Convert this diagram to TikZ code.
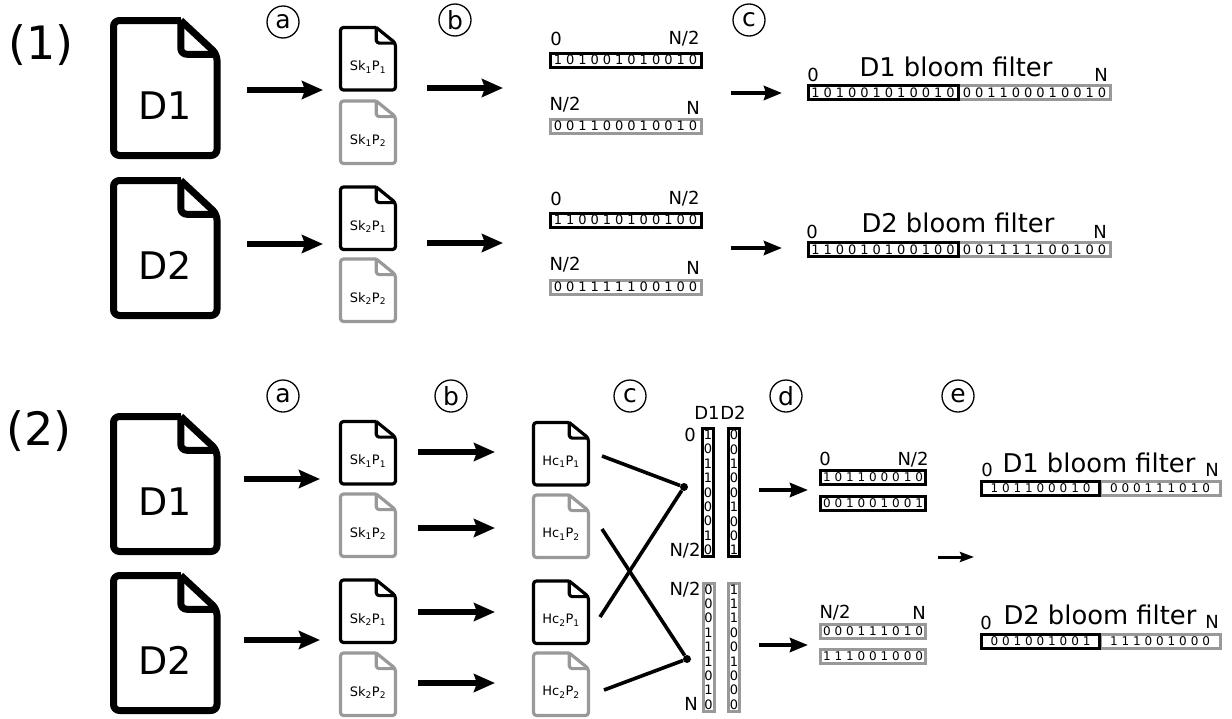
\documentclass[tikz,border=0pt]{standalone}
\usepackage{fontspec}
\setmainfont{DejaVu Sans}
\usetikzlibrary{arrows.meta}
\definecolor{docgrey}{gray}{0.6}
\newcommand{\fsz}[1]{\fontsize{#1}{#1}\selectfont}
\newcommand{\bitfont}{\fontsize{13}{14.4}\selectfont\spaceskip=4pt\relax}
\newcommand{\shortbitfont}{\fontsize{12}{14.4}\selectfont\spaceskip=3.9pt\relax}
\tikzset{
 docfile/.pic={
  \draw[pic actions,rounded corners=\docround,line join=round] (.65,0)--(0,0)--(0,1)--(1,1)--(1,.25)--(.65,0);
  \draw[pic actions,rounded corners=\docround,line join=round] (.65,0)--(.65,.25)--(1,.25);
  \node[doclabel] (-lbl) at (.5,.63) {#1};
 },
 bigdoc/.style={xscale=103.5,yscale=135,line width=7pt,doclabel/.style={font=\fsz{38}},/utils/exec=\def\docround{6pt}},
 smalldoc/.style={xscale=55,yscale=62.5,line width=3.2pt,doclabel/.style={font=\fsz{13}},/utils/exec=\def\docround{3pt}},
 blackdoc/.style={draw=black},
 greydoc/.style={draw=docgrey},
 bitbar/.style={rectangle,line width=3pt,inner sep=0,font=\bitfont},
 hbar/.style={bitbar,minimum width=#1,minimum height=14pt},
 shortbar/.style={hbar=#1,font=\shortbitfont},
 vbar/.style={bitbar,minimum width=11pt,minimum height=128pt,align=center},
 bigarrow/.style={line width=5.5pt,-{Stealth[length=21pt,width=18pt,inset=3pt]}},
 midarrow/.style={line width=4pt,-{Stealth[length=18pt,width=14pt,inset=2pt]}},
 smallarrow/.style={line width=3pt,-{Stealth[length=14pt,width=10pt,inset=2pt]}},
 stepmark/.style={circle,draw,line width=1.3pt,inner sep=0,minimum size=32pt,font=\fsz{25}},
 joinline/.style={line width=3.6pt},
 joindot/.style={circle,fill,inner sep=0,minimum size=8pt},
 title/.style={font=\fsz{25.8}},
 tag/.style={font=\fsz{18}},
}
\begin{document}
\begin{tikzpicture}[x=1pt,y=-1pt]
\useasboundingbox (0,0) rectangle (1232,718);

\node[font=\fsz{46}] (one) at (41,45) {(1)};
\node[font=\fsz{46}] (two) at (39,431) {(2)};

\foreach \n/\x/\y/\t in {m1a/283/22/a,m1b/455/20/b,m1c/749/20/c,m2a/283/396/a,m2b/451/396/b,m2c/630/396/c,m2d/786/396/d,m2e/958/396/e}
 \node[stepmark] (\n) at (\x,\y) {\t};

\foreach \n/\y/\t in {da/20.5/D1,db/180.5/D2,dc/416.5/D1,dd/575.5/D2}
 \pic[bigdoc,blackdoc] (\n) at (113.5,\y) {docfile=\t};

\foreach \n/\x/\y/\a/\b/\c in {sa/340.5/27.5/Sk/1/1,tb/340.5/187/Sk/2/1,ua/340.5/421.5/Sk/1/1,ub/340.5/580/Sk/2/1,va/533.5/422.5/Hc/1/1,vb/533.5/581/Hc/2/1}
 \pic[smalldoc,blackdoc] (\n) at (\x,\y) {docfile={\a\textsubscript{\b}P\textsubscript{\c}}};
\foreach \n/\x/\y/\a/\b/\c in {sc/340.5/101/Sk/1/2,td/340.5/259/Sk/2/2,uc/340.5/494/Sk/1/2,ud/340.5/653/Sk/2/2,vc/533.5/495/Hc/1/2,vd/533.5/653/Hc/2/2}
 \pic[smalldoc,greydoc] (\n) at (\x,\y) {docfile={\a\textsubscript{\b}P\textsubscript{\c}}};

\foreach \n/\xa/\xb/\y in {a1/247/323/90,a2/427/503/88,a3/247/323/244,a4/427/503/243,a5/244/320/479,a6/418/495/452,a7/418/495/528,a8/418/495/612,a9/418/495/683,a10/244/320/640} {
 \coordinate (\n s) at (\xa,\y);
 \coordinate (\n e) at (\xb,\y);
 \draw[bigarrow] (\n s) -- (\n e);
}
\foreach \n/\xa/\xb/\y in {b1/731/782/93,b2/731/782/248,b3/759/808/490,b4/759/808/645} {
 \coordinate (\n s) at (\xa,\y);
 \coordinate (\n e) at (\xb,\y);
 \draw[midarrow] (\n s) -- (\n e);
}
\coordinate (c1s) at (938,557);
\coordinate (c1e) at (974,557);
\draw[smallarrow] (c1s) -- (c1e);

\foreach \n/\y/\t in {ba/60/1 0 1 0 0 1 0 1 0 0 1 0,bc/220/1 1 0 0 1 0 1 0 0 1 0 0}
 \node[hbar=151pt,draw=black] (\n) at (625.5,\y) {\t};
\foreach \n/\y/\t in {bb/126/0 0 1 1 0 0 0 1 0 0 1 0,bd/287/0 0 1 1 1 1 1 0 0 1 0 0}
 \node[hbar=151pt,draw=docgrey] (\n) at (625.5,\y) {\t};

\foreach \n/\y/\t in {ga/92.5/0 0 1 1 0 0 0 1 0 0 1 0,gc/249.5/0 0 1 1 1 1 1 0 0 1 0 0}
 \node[hbar=152pt,draw=docgrey] (\n) at (1034.5,\y) {\t};
\foreach \n/\y/\t in {fa/92.5/1 0 1 0 0 1 0 1 0 0 1 0,fc/249.5/1 1 0 0 1 0 1 0 0 1 0 0}
 \node[hbar=150pt,draw=black] (\n) at (883,\y) {\t};

\node[title] (fat) at (956,67) {D1 bloom filter};
\node[title] (fct) at (958,223) {D2 bloom filter};
\foreach \n/\x/\y/\t in {l1/556/39/0,l2/684/39/N\slash 2,l3/565/105/N\slash 2,l4/693/108/N,l5/556/199/0,l6/684/199/N\slash 2,l7/565/265/N\slash 2,l8/693/268/N,l9/813/75/0,l10/1101/75/N,l11/812/232/0,l12/1100/232/N,l13/707/413/D1,l14/733/413/D2,l15/690/435/0,l16/685/551/N\slash 2,l17/685/590/N\slash 2,l18/691/704/N,l19/825/459/0,l20/913/460/N\slash 2,l21/835/613/N\slash 2,l22/919/613/N,l23/987/470/0,l24/1212/470/N,l25/986/623/0,l26/1212/622/N}
 \node[tag] (\n) at (\x,\y) {\t};

\node[vbar,draw=black] (va1) at (708,492.5) {1\\0\\1\\1\\0\\0\\0\\1\\0};
\node[vbar,draw=black] (va2) at (734,492.5) {0\\0\\1\\0\\0\\1\\0\\0\\1};
\node[vbar,draw=docgrey] (vb1) at (708.5,647) {0\\0\\0\\1\\1\\1\\0\\1\\0};
\node[vbar,draw=docgrey] (vb2) at (734,647) {1\\1\\1\\0\\0\\1\\0\\0\\0};

\node[joindot] (ja) at (684,487) {};
\node[joindot] (jb) at (687,659) {};
\foreach \n/\x/\y/\j in {e1/602/456/ja,e2/600/617/ja,e3/602/529/jb,e4/604/690/jb} {
 \coordinate (\n) at (\x,\y);
 \draw[joinline] (\n) -- (\j);
}

\foreach \n/\y/\t in {ha/477.5/1 0 1 1 0 0 0 1 0,hb/503/0 0 1 0 0 1 0 0 1}
 \node[shortbar=105pt,draw=black] (\n) at (873,\y) {\t};
\foreach \n/\y/\t in {hc/631/0 0 0 1 1 1 0 1 0,hd/656.5/1 1 1 0 0 1 0 0 0}
 \node[shortbar=105pt,draw=docgrey] (\n) at (873,\y) {\t};

\foreach \n/\y/\t in {kb/488/0 0 0 1 1 1 0 1 0,kd/641/1 1 1 0 0 1 0 0 0}
 \node[shortbar=120pt,draw=docgrey] (\n) at (1160,\y) {\t};
\foreach \n/\y/\t in {ka/488/1 0 1 1 0 0 0 1 0,kc/641/0 0 1 0 0 1 0 0 1}
 \node[shortbar=118pt,draw=black] (\n) at (1040.5,\y) {\t};

\node[title] (kat) at (1099,463) {D1 bloom filter};
\node[title] (kct) at (1100,615) {D2 bloom filter};
\end{tikzpicture}
\end{document}
